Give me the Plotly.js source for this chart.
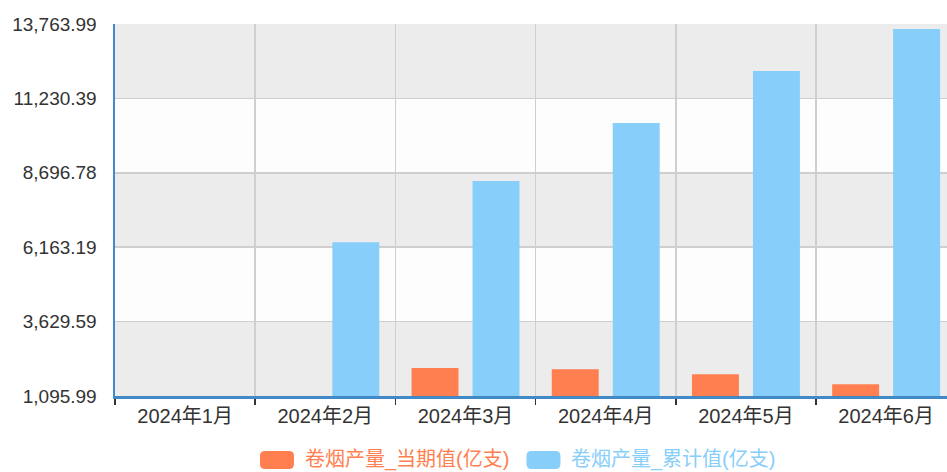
<!DOCTYPE html>
<html>
<head>
<meta charset="utf-8">
<script src="https://cdn.plot.ly/plotly-3.0.1.min.js"></script>
<style>html,body{margin:0;padding:0;background:#fff;}#chart{width:947px;height:472px;}</style>
</head>
<body>
<div id="chart"></div>
<script>
const categories = ['2024年1月','2024年2月','2024年3月','2024年4月','2024年5月','2024年6月'];
const currentName = '卷烟产量_当期值(亿支)';
const cumulativeName = '卷烟产量_累计值(亿支)';
const currentValues = [null, null, 2049, 2005, 1835, 1494];
const cumulativeValues = [null, 6333, 8418, 10392, 12163, 13594];
const yTickVals = [1095.99, 3629.59, 6163.19, 8696.78, 11230.39, 13763.99];
const yTickText = ['1,095.99','3,629.59','6,163.19','8,696.78','11,230.39','13,763.99'];

const orange = '#ff7f50';
const blue = '#87cefa';
const fontFam = '"Liberation Sans", Arial, "Noto Sans CJK SC", sans-serif';

const traces = [
  {type:'bar', x:categories, y:currentValues, name:currentName, marker:{color:orange}, hoverinfo:'none'},
  {type:'bar', x:categories, y:cumulativeValues, name:cumulativeName, marker:{color:blue}, hoverinfo:'none'}
];

const shapes = [];
for (let i = 0; i < yTickVals.length - 1; i++) {
  shapes.push({type:'rect', layer:'below', xref:'paper', yref:'y', x0:0, x1:1,
    y0:yTickVals[i], y1:yTickVals[i+1], line:{width:0},
    fillcolor: (yTickVals.length - 2 - i) % 2 === 0 ? '#ececec' : '#fdfdfd'});
}
const legY = -0.172;
const rr = 'M -12,-9 L 12,-9 Q 17,-9 17,-4 L 17,4 Q 17,9 12,9 L -12,9 Q -17,9 -17,4 L -17,-4 Q -17,-9 -12,-9 Z';
shapes.push({type:'path', xref:'paper', yref:'paper', xsizemode:'pixel', ysizemode:'pixel',
  xanchor:0.1947, yanchor:legY, path:rr, fillcolor:orange, line:{width:0}});
shapes.push({type:'path', xref:'paper', yref:'paper', xsizemode:'pixel', ysizemode:'pixel',
  xanchor:0.515, yanchor:legY, path:rr, fillcolor:blue, line:{width:0}});

const annotations = [
  {xref:'paper', yref:'paper', x:0.226, y:legY, xanchor:'left', yanchor:'middle', showarrow:false,
   text:currentName, font:{family:fontFam, size:20, color:orange}},
  {xref:'paper', yref:'paper', x:0.5457, y:legY, xanchor:'left', yanchor:'middle', showarrow:false,
   text:cumulativeName, font:{family:fontFam, size:20, color:blue}}
];

const layout = {
  width:947, height:472,
  margin:{l:115, r:0, t:24, b:76},
  paper_bgcolor:'#ffffff', plot_bgcolor:'#fdfdfd',
  showlegend:false,
  barmode:'group', bargap:0.13, bargroupgap:0.23,
  font:{family:fontFam, color:'#333'},
  xaxis:{type:'category', categoryorder:'array', categoryarray:categories,
    range:[-0.5, 5.434], tickson:'boundaries', ticks:'outside', ticklen:6, tickwidth:1.5, tickcolor:'#333',
    showgrid:true, gridcolor:'#cfcfcf', gridwidth:1.5,
    showline:true, linecolor:'#4189c7', linewidth:3,
    tickfont:{family:fontFam, size:20, color:'#333'}, fixedrange:true},
  yaxis:{range:[1095.99, 13763.99], tickmode:'array', tickvals:yTickVals, ticktext:yTickText,
    showgrid:true, gridcolor:'#cfcfcf', gridwidth:1.5, zeroline:false,
    showline:true, linecolor:'#4189c7', linewidth:2.5,
    ticks:'outside', ticklen:12, tickcolor:'rgba(0,0,0,0)',
    tickfont:{family:fontFam, size:19, color:'#333'}, fixedrange:true},
  shapes:shapes,
  annotations:annotations
};

Plotly.newPlot('chart', traces, layout, {displayModeBar:false, staticPlot:true});
</script>
</body>
</html>
